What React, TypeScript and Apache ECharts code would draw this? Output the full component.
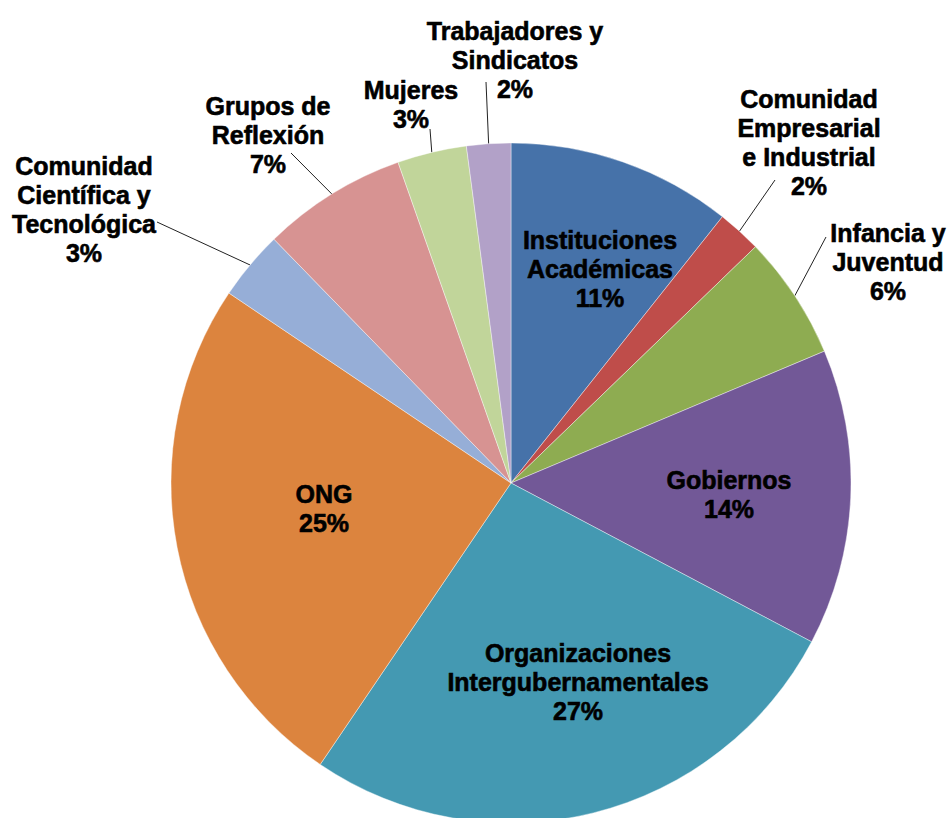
import React, { useEffect, useRef } from "react";
import * as echarts from "echarts";

// Categories (clockwise from 12 o'clock), label line breaks as in the reference
const categories = [
  "Instituciones\nAcadémicas",
  "Comunidad\nEmpresarial\ne Industrial",
  "Infancia y\nJuventud",
  "Gobiernos",
  "Organizaciones\nIntergubernamentales",
  "ONG",
  "Comunidad\nCientífica y\nTecnológica",
  "Grupos de\nReflexión",
  "Mujeres",
  "Trabajadores y\nSindicatos",
];

// Shares (percent)
const shares = [10.7, 2.1, 5.9, 14.1, 26.8, 25.0, 3.3, 6.9, 3.3, 2.1];

// Slice colours
const colors = [
  "#4672A9",
  "#BF4D4A",
  "#8EAC51",
  "#725897",
  "#4499B2",
  "#DC843E",
  "#96AED7",
  "#D79392",
  "#C1D59A",
  "#B2A1C8",
];

// Which labels sit inside their slice
const insideLabel = [true, false, false, true, true, true, false, false, false, false];

// Layout: label block centres and leader-line end points (pixels)
const labelCenters: number[][] = [
  [600, 269],
  [809, 142],
  [888, 262],
  [729, 494],
  [578, 682],
  [324, 508],
  [84, 209],
  [268, 135],
  [411, 104],
  [515, 60],
];
const leaderEnds: (number[] | null)[] = [
  null,
  [775, 180],
  [826, 237],
  null,
  null,
  null,
  [157, 222],
  [291, 153],
  [430, 129],
  [486, 82],
];

export default function App() {
  const ref = useRef<HTMLDivElement>(null);

  useEffect(() => {
    document.body.style.margin = "0";
    const chart = echarts.init(ref.current as HTMLDivElement, null, { renderer: "svg" });

    const data = categories.map((name, i) => ({
      name,
      value: shares[i],
      itemStyle: { color: colors[i] },
      label: { position: insideLabel[i] ? "inside" : "outside" },
      labelLine: { show: !insideLabel[i] },
    }));

    chart.setOption({
      animation: false,
      backgroundColor: "#ffffff",
      series: [
        {
          type: "pie",
          center: [511, 483],
          radius: [0, 340],
          startAngle: 90,
          clockwise: true,
          avoidLabelOverlap: false,
          emphasis: { disabled: true },
          itemStyle: {
            borderColor: "rgba(255,255,255,0.4)",
            borderWidth: 1,
          },
          label: {
            show: true,
            formatter: (p: any) => `${p.name}\n${Math.round(p.percent)}%`,
            fontFamily: "'Liberation Sans', Arial, Helvetica, sans-serif",
            fontWeight: "bold",
            fontSize: 25,
            lineHeight: 29,
            color: "#000000",
            textBorderColor: "#000000",
            textBorderWidth: 0.6,
            align: "center",
          },
          labelLine: {
            show: true,
            length: 20,
            length2: 0,
            lineStyle: { color: "#222222", width: 1 },
          },
          labelLayout: (params: any) => {
            const i = params.dataIndex;
            const c = labelCenters[i];
            const res: any = {
              x: c[0],
              y: c[1],
              align: "center",
              verticalAlign: "middle",
            };
            const end = leaderEnds[i];
            if (end && params.labelLinePoints && params.labelLinePoints.length) {
              res.labelLinePoints = [params.labelLinePoints[0], end];
            }
            return res;
          },
          data,
        },
      ],
    });

    return () => chart.dispose();
  }, []);

  return <div ref={ref} style={{ width: 951, height: 818 }} />;
}
